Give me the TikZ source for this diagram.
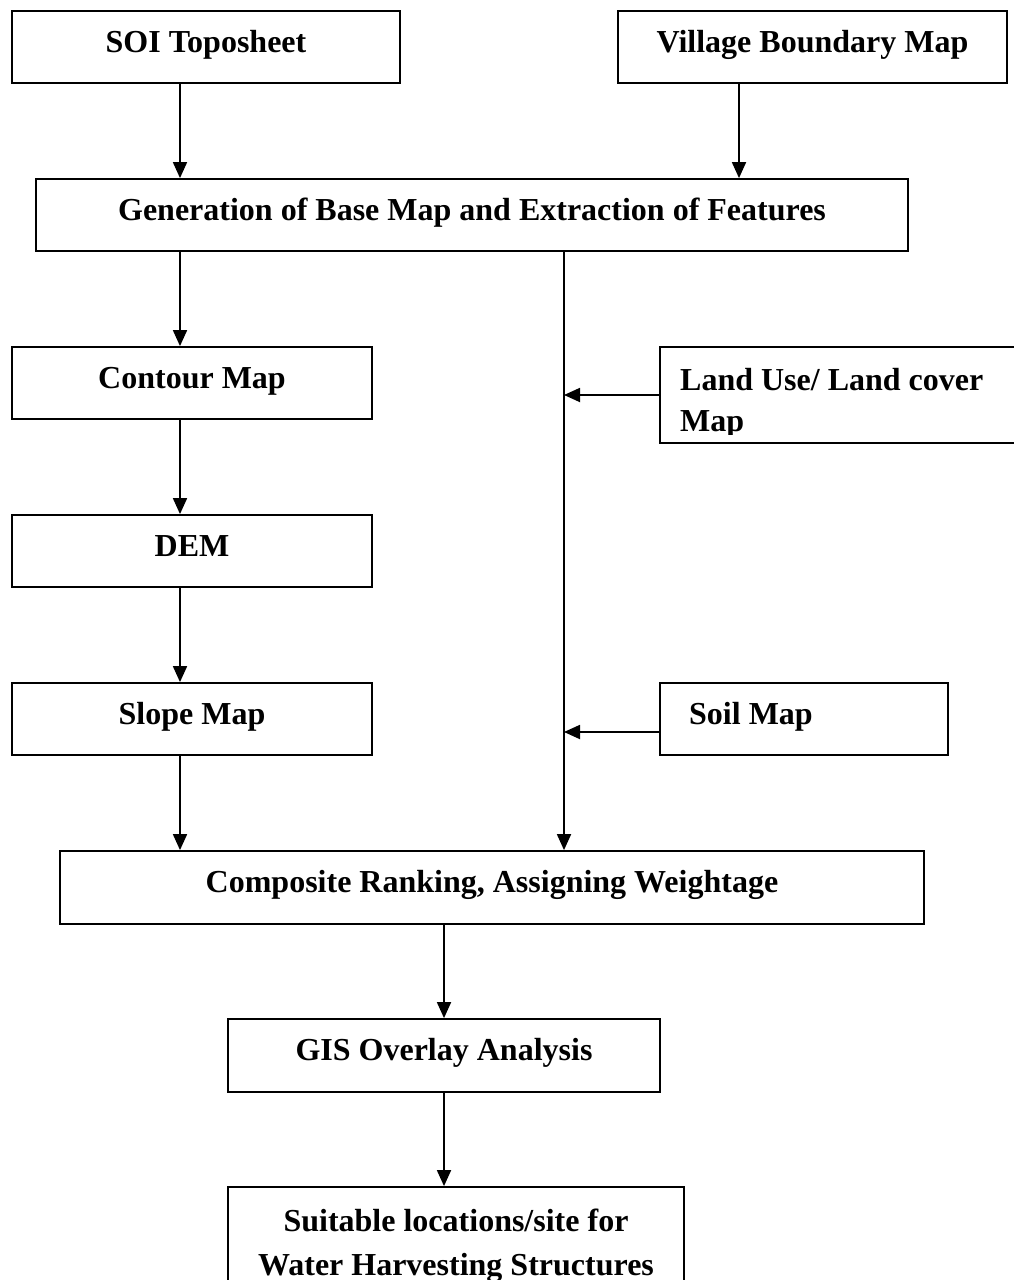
\documentclass[tikz,border=0pt]{standalone}
\usepackage{fontspec}
\setmainfont{Liberation Serif}
\usetikzlibrary{arrows.meta}
\begin{document}
\begin{tikzpicture}[x=1pt,y=-1pt,
  box/.style={draw, line width=1.8pt, rectangle, inner sep=0pt,
    font=\bfseries\fontsize{32}{40}\selectfont, text height=22pt, text depth=12pt},
  txt/.style={inner sep=0pt, font=\bfseries\fontsize{32}{40}\selectfont},
  arr/.style={line width=1.8pt, -{Triangle[length=16pt,width=14pt]}}]
\fill[white] (0,0) rectangle (1014,1280);
\useasboundingbox (0,0) rectangle (1014,1280);
% reference x positions of connectors
\coordinate (L) at (180,0);
\coordinate (V) at (739,0);
\coordinate (M) at (564,0);
% boxes
\node[box, minimum width=388pt, minimum height=72pt] (soi) at (206,47) {SOI Toposheet};
\node[box, minimum width=389pt, minimum height=72pt] (vil) at (812.5,47) {Village Boundary Map};
\node[box, minimum width=872pt, minimum height=72pt] (gen) at (472,215) {Generation of Base Map and Extraction of Features};
\node[box, minimum width=360pt, minimum height=72pt] (con) at (192,383) {Contour Map};
\node[box, minimum width=370pt, minimum height=96pt] (lu) at (845,395) {};
\node[box, minimum width=360pt, minimum height=72pt] (dem) at (192,551) {DEM};
\node[box, minimum width=360pt, minimum height=72pt] (slo) at (192,719) {Slope Map};
\node[box, minimum width=288pt, minimum height=72pt] (soil) at (804,719) {};
\node[box, minimum width=864pt, minimum height=73pt] (com) at (492,887.5) {Composite Ranking, Assigning Weightage};
\node[box, minimum width=432pt, minimum height=73pt] (gis) at (444,1055.5) {GIS Overlay Analysis};
\node[box, minimum width=456pt, minimum height=113pt] (suit) at (456,1243.5) {};
% texts placed inside boxes
\begin{scope}
  \clip (660,347) rectangle (1014,434);
  \node[txt, anchor=base west] (luA) at (680,390) {Land Use/ Land cover};
  \node[txt, anchor=base west] (luB) at (680,431) {Map};
\end{scope}
\node[txt, anchor=base west] (soilT) at (689,724) {Soil Map};
\node[txt, anchor=base] (suitA) at (456,1231) {Suitable locations/site for};
\node[txt, anchor=base] (suitB) at (456,1275) {Water Harvesting Structures};
% connectors
\draw[arr] (soi.south -| L) -- (gen.north -| L);
\draw[arr] (vil.south -| V) -- (gen.north -| V);
\draw[arr] (gen.south -| L) -- (con.north -| L);
\draw[arr] (con.south -| L) -- (dem.north -| L);
\draw[arr] (dem.south -| L) -- (slo.north -| L);
\draw[arr] (slo.south -| L) -- (com.north -| L);
\draw[arr] (gen.south -| M) -- (com.north -| M);
\draw[arr] (lu.west) -- (lu.west -| M);
\draw[arr] ([yshift=-13pt]soil.west) -- ([yshift=-13pt]soil.west -| M);
\draw[arr] (com.south -| gis.north) -- (gis.north);
\draw[arr] (gis.south) -- (gis.south |- suit.north);
\end{tikzpicture}
\end{document}
